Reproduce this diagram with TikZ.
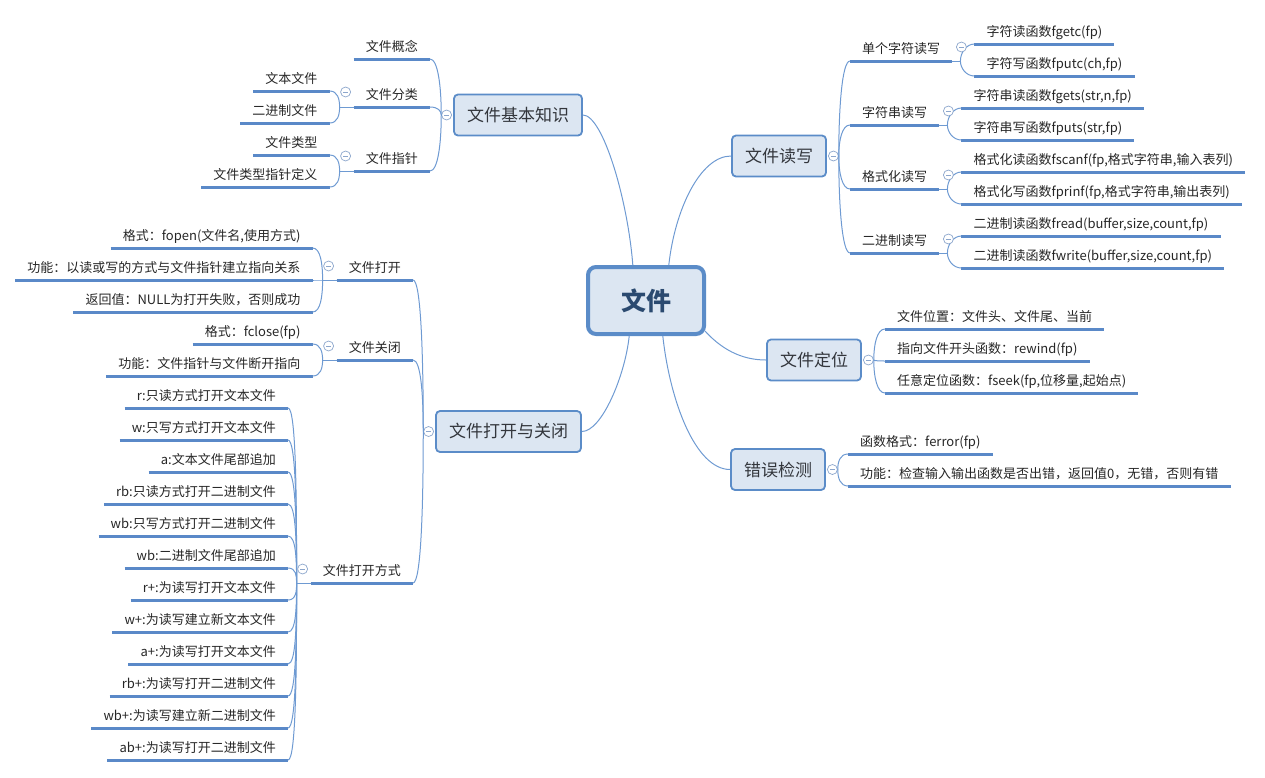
\documentclass[tikz,border=0pt]{standalone}
\usepackage{fontspec}
\setmainfont{Noto Sans CJK SC}
\usetikzlibrary{calc}

\definecolor{boxfill}{HTML}{DCE6F2}
\definecolor{boxline}{HTML}{5B8CC8}
\definecolor{ulinec}{HTML}{5A89C8}
\definecolor{connc}{HTML}{6E9AD2}
\definecolor{foldc}{HTML}{8CA6CC}
\definecolor{roottext}{HTML}{2B4A70}
\definecolor{topictext}{HTML}{33363C}

\newcommand\leaffont{\fontsize{13}{15}\selectfont}
\newcommand\topicfont{\fontsize{17}{20}\selectfont}
\newcommand\rootfont{\fontsize{25}{28}\selectfont\bfseries}

\tikzset{
  uline/.style={draw=ulinec, line width=3pt},
  conn/.style={draw=connc, line width=1pt},
  leaf/.style={font=\leaffont, text=black!85, inner xsep=12pt, inner ysep=4pt,
    text height=10pt, text depth=3pt,
    append after command={(\tikzlastnode.south west) edge[uline] (\tikzlastnode.south east)}},
  topicbox/.style={draw=boxline, fill=boxfill, line width=1.8pt, rounded corners=4pt,
    minimum height=41pt, inner xsep=13pt, font=\topicfont, text=topictext},
  rootbox/.style={draw=boxline, fill=boxfill, line width=4pt, rounded corners=8pt,
    minimum width=116pt, minimum height=67pt, font=\rootfont, text=roottext},
  fold/.style={circle, draw=foldc, fill=white, line width=0.7pt, minimum size=10pt, inner sep=0pt,
    path picture={\draw[foldc, line width=0.7pt]
      ([xshift=-2.6pt]path picture bounding box.center) -- ([xshift=2.6pt]path picture bounding box.center);}}
}

\begin{document}
\begin{tikzpicture}[x=1pt, y=-1pt]
\useasboundingbox (0,0) rectangle (1265,777);

% centre
\node[rootbox] (root) at (646,300.5) {文件};

% ---------- 文件基本知识 ----------
\node[topicbox] (kb) at (518,115) {文件基本知识};
\node[leaf, anchor=south east] (kb1) at (430,59) {文件概念};
\node[leaf, anchor=south east] (kb2) at (430,107) {文件分类};
\node[leaf, anchor=south east] (kb3) at (430,171) {文件指针};
\node[leaf, anchor=south east] (kb21) at ($(kb2.south west)+(-24,-16)$) {文本文件};
\node[leaf, anchor=south east] (kb22) at ($(kb2.south west)+(-24,16)$) {二进制文件};
\node[leaf, anchor=south east] (kb31) at ($(kb3.south west)+(-24,-16)$) {文件类型};
\node[leaf, anchor=south east] (kb32) at ($(kb3.south west)+(-24,16)$) {文件类型指针定义};
\coordinate (kb2j) at ($(kb2.south west)+(-14,0)$);
\coordinate (kb3j) at ($(kb3.south west)+(-14,0)$);
\node[fold] (kbf) at ($(kb.west)+(-6.5,0)$) {};

\foreach \c in {kb1,kb2,kb3}
  \draw[conn] (\c.south east) .. controls +(8,0) and ($(kbf.west)!0.5!(kbf.west |- \c.south east)$) .. (kbf.west);
\foreach \p in {kb2,kb3}{
  \draw[conn] (\p.south west) -- (\p j);
  \foreach \c in {1,2}
    \draw[conn] (\p\c.south east) .. controls +(8,0) and ($(\p j)!0.5!(\p j |- \p\c.south east)$) .. (\p j);
  \node[fold] at ($(\p.south west)+(-8,-15)$) {};
}

% ---------- 文件打开与关闭 ----------
\node[topicbox] (oc) at (508.5,431.5) {文件打开与关闭};
\node[leaf, anchor=south east] (oc1) at (413,280) {文件打开};
\node[leaf, anchor=south east] (oc2) at (413,360) {文件关闭};
\node[leaf, anchor=south east] (oc3) at (413,583) {文件打开方式};
\node[leaf, anchor=south east] (oc11) at ($(oc1.south west)+(-24,-32)$) {格式：fopen(文件名,使用方式)};
\node[leaf, anchor=south east] (oc12) at ($(oc1.south west)+(-24,0)$) {功能：以读或写的方式与文件指针建立指向关系};
\node[leaf, anchor=south east] (oc13) at ($(oc1.south west)+(-24,32)$) {返回值：NULL为打开失败，否则成功};
\node[leaf, anchor=south east] (oc21) at ($(oc2.south west)+(-24,-16)$) {格式：fclose(fp)};
\node[leaf, anchor=south east] (oc22) at ($(oc2.south west)+(-24,16)$) {功能：文件指针与文件断开指向};
\foreach \t [count=\i] in {r:只读方式打开文本文件, w:只写方式打开文本文件, a:文本文件尾部追加,
    rb:只读方式打开二进制文件, wb:只写方式打开二进制文件, wb:二进制文件尾部追加,
    r+:为读写打开文本文件, w+:为读写建立新文本文件, a+:为读写打开文本文件,
    rb+:为读写打开二进制文件, wb+:为读写建立新二进制文件, ab+:为读写打开二进制文件}
  \node[leaf, anchor=south east] (oc3\i) at (288, 376+32*\i) {\t};
\coordinate (oc1j) at ($(oc1.south west)+(-14,0)$);
\coordinate (oc2j) at ($(oc2.south west)+(-14,0)$);
\coordinate (oc3j) at ($(oc3.south west)+(-14,0)$);
\node[fold] (ocf) at ($(oc.west)+(-6.5,0)$) {};

\foreach \c in {oc1,oc2,oc3}
  \draw[conn] (\c.south east) .. controls +(8,0) and ($(ocf.west)!0.5!(ocf.west |- \c.south east)$) .. (ocf.west);
\draw[conn] (oc1.south west) -- (oc1j);
\foreach \c in {1,2,3}
  \draw[conn] (oc1\c.south east) .. controls +(8,0) and ($(oc1j)!0.5!(oc1j |- oc1\c.south east)$) .. (oc1j);
\draw[conn] (oc2.south west) -- (oc2j);
\foreach \c in {1,2}
  \draw[conn] (oc2\c.south east) .. controls +(8,0) and ($(oc2j)!0.5!(oc2j |- oc2\c.south east)$) .. (oc2j);
\draw[conn] (oc3.south west) -- (oc3j);
\foreach \c in {1,...,12}
  \draw[conn] (oc3\c.south east) .. controls +(8,0) and ($(oc3j)!0.5!(oc3j |- oc3\c.south east)$) .. (oc3j);
\foreach \p in {oc1,oc2,oc3}
  \node[fold] at ($(\p.south west)+(-8,-14)$) {};

% ---------- 文件读写 ----------
\node[topicbox] (rw) at (779,156) {文件读写};
\node[leaf, anchor=south west] (rw1) at (850,61) {单个字符读写};
\node[leaf, anchor=south west] (rw2) at (850,125) {字符串读写};
\node[leaf, anchor=south west] (rw3) at (850,189) {格式化读写};
\node[leaf, anchor=south west] (rw4) at (850,253) {二进制读写};
\node[leaf, anchor=south west] (rw11) at ($(rw1.south east)+(22,-17)$) {字符读函数fgetc(fp)};
\node[leaf, anchor=south west] (rw12) at ($(rw1.south east)+(22,15)$) {字符写函数fputc(ch,fp)};
\node[leaf, anchor=south west] (rw21) at ($(rw2.south east)+(22,-17)$) {字符串读函数fgets(str,n,fp)};
\node[leaf, anchor=south west] (rw22) at ($(rw2.south east)+(22,15)$) {字符串写函数fputs(str,fp)};
\node[leaf, anchor=south west] (rw31) at ($(rw3.south east)+(22,-17)$) {格式化读函数fscanf(fp,格式字符串,输入表列)};
\node[leaf, anchor=south west] (rw32) at ($(rw3.south east)+(22,15)$) {格式化写函数fprinf(fp,格式字符串,输出表列)};
\node[leaf, anchor=south west] (rw41) at ($(rw4.south east)+(22,-17)$) {二进制读函数fread(buffer,size,count,fp)};
\node[leaf, anchor=south west] (rw42) at ($(rw4.south east)+(22,15)$) {二进制读函数fwrite(buffer,size,count,fp)};
\node[fold] (rwf) at ($(rw.east)+(6.5,0)$) {};

\foreach \c in {rw1,rw2,rw3,rw4}
  \draw[conn] (rwf.east) .. controls ($(rwf.east)!0.5!(rwf.east |- \c.south west)$) and +(-8,0) .. (\c.south west);
\foreach \p in {rw1,rw2,rw3,rw4}{
  \coordinate (\p j) at ($(\p.south east)+(8,0)$);
  \draw[conn] (\p.south east) -- (\p j);
  \foreach \c in {1,2}
    \draw[conn] (\p j) .. controls ($(\p j)!0.5!(\p j |- \p\c.south west)$) and +(-8,0) .. (\p\c.south west);
  \node[fold] at ($(\p.south east)+(9,-14)$) {};
}

% ---------- 文件定位 ----------
\node[topicbox] (po) at (814,360) {文件定位};
\node[leaf, anchor=south west] (po1) at (885,329) {文件位置：文件头、文件尾、当前};
\node[leaf, anchor=south west] (po2) at (885,361) {指向文件开头函数：rewind(fp)};
\node[leaf, anchor=south west] (po3) at (885,393) {任意定位函数：fseek(fp,位移量,起始点)};
\node[fold] (pof) at ($(po.east)+(6.5,0)$) {};
\foreach \c in {po1,po2,po3}
  \draw[conn] (pof.east) .. controls ($(pof.east)!0.5!(pof.east |- \c.south west)$) and +(-8,0) .. (\c.south west);

% ---------- 错误检测 ----------
\node[topicbox] (ed) at (778,469.5) {错误检测};
\node[leaf, anchor=south west] (ed1) at (848,454) {函数格式：ferror(fp)};
\node[leaf, anchor=south west] (ed2) at (848,486) {功能：检查输入输出函数是否出错，返回值0，无错，否则有错};
\node[fold] (edf) at ($(ed.east)+(6.5,0)$) {};
\foreach \c in {ed1,ed2}
  \draw[conn] (edf.east) .. controls ($(edf.east)!0.5!(edf.east |- \c.south west)$) and +(-8,0) .. (\c.south west);

% main branches
\draw[conn] ($(root.north west)!0.39!(root.north east)$) .. controls +(-5,-65) and +(20,0) .. (kb.east);
\draw[conn] ($(root.north west)!0.69!(root.north east)$) .. controls +(6,-55) and +(-31,0) .. (rw.west);
\draw[conn] ($(root.south west)!0.36!(root.south east)$) .. controls +(-4,39) and +(20,0) .. (oc.east);
\draw[conn] ($(root.south west)!0.64!(root.south east)$) .. controls +(7,64) and +(-35,0) .. (ed.west);
\draw[conn] ($(root.south east)+(-1,-5)$) .. controls +(20,22) and +(-20,0) .. (po.west);
\end{tikzpicture}
\end{document}
